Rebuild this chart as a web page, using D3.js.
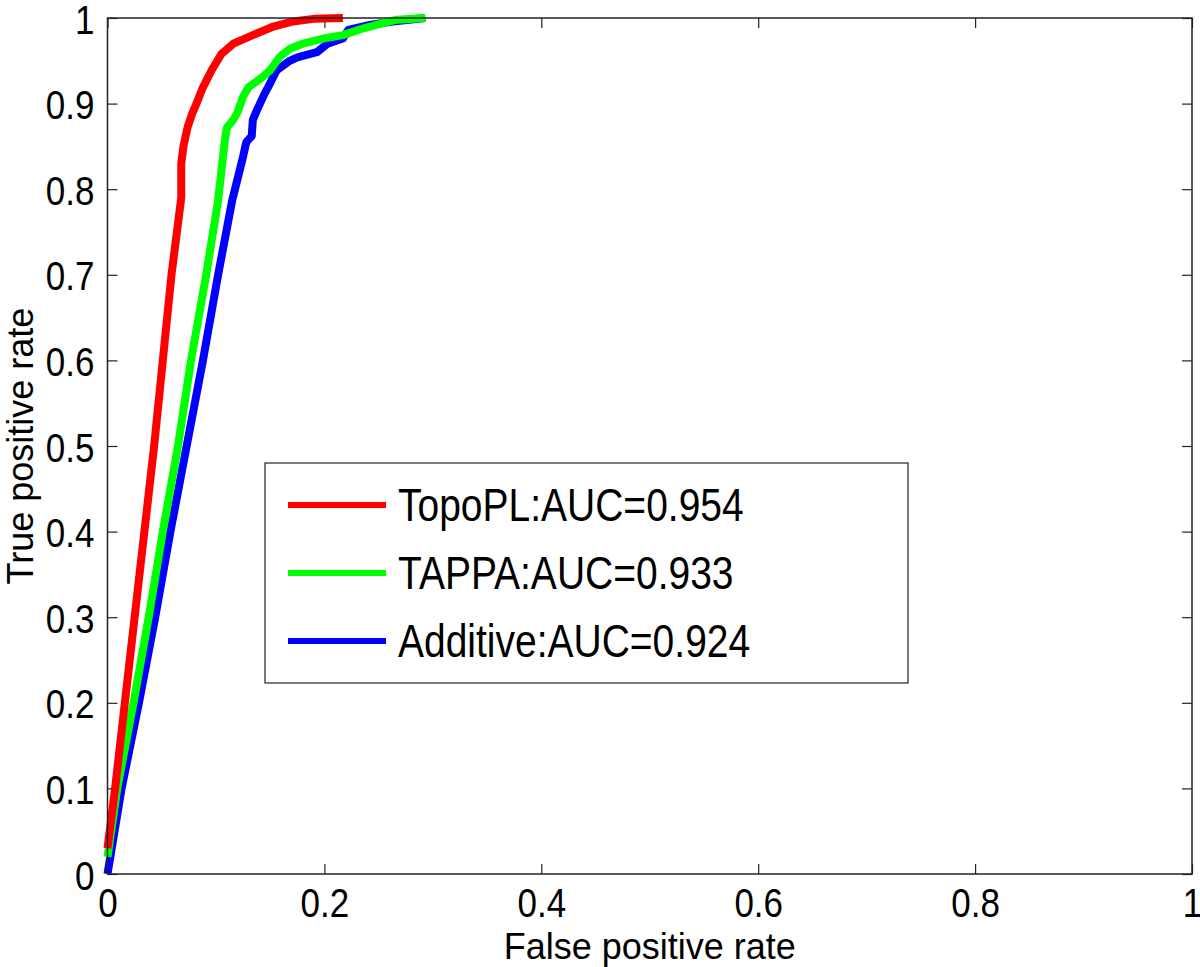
<!DOCTYPE html>
<html>
<head>
<meta charset="utf-8">
<script src="https://cdn.jsdelivr.net/npm/d3@7"></script>
<style>
  body { margin: 0; background: #fff; }
  svg { display: block; }
  text { font-family: "Liberation Sans", Arial, sans-serif; fill: #000; }
</style>
</head>
<body>
<svg id="chart" width="1200" height="967"></svg>
<script>
// series data: [false positive rate, true positive rate]
var topoPL = [
  [0, 0.03], [0.007, 0.1], [0.016, 0.2], [0.025, 0.3], [0.034, 0.4],
  [0.043, 0.5], [0.051, 0.6], [0.059, 0.7], [0.065, 0.76], [0.068, 0.79],
  [0.068, 0.83], [0.070, 0.85], [0.074, 0.873], [0.078, 0.888], [0.082, 0.9],
  [0.088, 0.919], [0.096, 0.939], [0.105, 0.958], [0.116, 0.970], [0.134, 0.980],
  [0.153, 0.990], [0.171, 0.996], [0.19, 0.999], [0.217, 1.0]
];
var tappa = [
  [0, 0.02], [0.009, 0.1], [0.024, 0.2], [0.038, 0.3], [0.051, 0.4],
  [0.065, 0.5], [0.077, 0.6], [0.091, 0.7], [0.102, 0.787], [0.108, 0.855],
  [0.110, 0.872], [0.116, 0.881], [0.120, 0.890], [0.125, 0.908], [0.130, 0.919],
  [0.143, 0.931], [0.150, 0.939], [0.159, 0.955], [0.168, 0.964], [0.180, 0.970],
  [0.199, 0.976], [0.217, 0.980], [0.236, 0.988], [0.254, 0.994], [0.267, 0.998],
  [0.293, 1.0]
];
var additive = [
  [0, 0], [0.013, 0.1], [0.029, 0.2], [0.044, 0.3], [0.058, 0.4],
  [0.073, 0.5], [0.088, 0.6], [0.102, 0.7], [0.115, 0.787], [0.125, 0.838],
  [0.128, 0.855], [0.133, 0.862], [0.134, 0.881], [0.138, 0.893], [0.145, 0.912],
  [0.148, 0.919], [0.156, 0.939], [0.168, 0.950], [0.175, 0.954], [0.193, 0.960],
  [0.203, 0.970], [0.217, 0.976], [0.222, 0.986], [0.242, 0.992], [0.263, 0.996],
  [0.293, 1.0]
];

var seriesNames = ["TopoPL:AUC=0.954", "TAPPA:AUC=0.933", "Additive:AUC=0.924"];
var seriesColors = ["#ff0000", "#00ff00", "#0000ff"];
var seriesData = [topoPL, tappa, additive];

var xTicks = [0, 0.2, 0.4, 0.6, 0.8, 1];
var xTickLabels = ["0", "0.2", "0.4", "0.6", "0.8", "1"];
var yTicks = [0, 0.1, 0.2, 0.3, 0.4, 0.5, 0.6, 0.7, 0.8, 0.9, 1];
var yTickLabels = ["0", "0.1", "0.2", "0.3", "0.4", "0.5", "0.6", "0.7", "0.8", "0.9", "1"];

var margin = { left: 107.5, right: 8, top: 18, bottom: 93 };
var width = 1200 - margin.left - margin.right;
var height = 967 - margin.top - margin.bottom;

var svg = d3.select("#chart");
var g = svg.append("g")
  .attr("transform", "translate(" + margin.left + "," + margin.top + ")");

var x = d3.scaleLinear().domain([0, 1]).range([0, width]);
var y = d3.scaleLinear().domain([0, 1]).range([height, 0]);

// the reference text is drawn a bit taller than it is wide
var placeText = function placeText(sel, tx, ty, rot, sy) {
  sel.attr("x", 0).attr("y", 0).attr("dy", null)
    .attr("transform", "translate(" + tx + "," + ty + ")" +
      (rot ? " rotate(" + rot + ")" : "") + " scale(1," + (sy || 1.18) + ")");
};

var styleAxis = function styleAxis(sel, labels) {
  sel.select(".domain").remove();
  sel.selectAll(".tick line").attr("stroke", "#222").attr("stroke-width", 1.2);
  var txt = sel.selectAll(".tick text").style("font-size", "35px");
  if (labels === "x") {
    txt.each(function() { placeText(d3.select(this), 0, 43); });
  } else if (labels === "y") {
    txt.each(function() { placeText(d3.select(this), -13, 15); });
  } else {
    txt.remove();
  }
};

// bottom + top (mirrored ticks, inside)
g.append("g")
  .attr("transform", "translate(0," + height + ")")
  .call(d3.axisBottom(x).tickValues(xTicks)
    .tickFormat(function(d, i) { return xTickLabels[i]; })
    .tickSizeInner(-10).tickSizeOuter(0))
  .call(styleAxis, "x");
g.append("g")
  .call(d3.axisTop(x).tickValues(xTicks).tickSizeInner(-10).tickSizeOuter(0))
  .call(styleAxis, null);
// left + right
g.append("g")
  .call(d3.axisLeft(y).tickValues(yTicks)
    .tickFormat(function(d, i) { return yTickLabels[i]; })
    .tickSizeInner(-10).tickSizeOuter(0))
  .call(styleAxis, "y");
g.append("g")
  .attr("transform", "translate(" + width + ",0)")
  .call(d3.axisRight(y).tickValues(yTicks).tickSizeInner(-10).tickSizeOuter(0))
  .call(styleAxis, null);

var line = d3.line()
  .x(function(d) { return x(d[0]); })
  .y(function(d) { return y(d[1]); });

// draw blue first so red stays on top like the reference
[2, 1, 0].forEach(function(i) {
  g.append("path")
    .datum(seriesData[i])
    .attr("fill", "none")
    .attr("stroke", seriesColors[i])
    .attr("stroke-width", 8)
    .attr("stroke-linejoin", "round")
    .attr("d", line);
});

// frame
g.append("rect")
  .attr("width", width)
  .attr("height", height)
  .attr("fill", "none")
  .attr("stroke", "#222")
  .attr("stroke-width", 1.5);

// axis labels
svg.append("text")
  .attr("text-anchor", "middle")
  .style("font-size", "36px")
  .text("False positive rate")
  .call(placeText, margin.left + width / 2, 959, 0, 1);
svg.append("text")
  .attr("text-anchor", "middle")
  .style("font-size", "36px")
  .text("True positive rate")
  .call(placeText, 33, margin.top + height / 2, -90, 1);

// legend
var legend = svg.append("g").attr("transform", "translate(265,463)");
legend.append("rect")
  .attr("width", 643)
  .attr("height", 220)
  .attr("fill", "#fff")
  .attr("stroke", "#222")
  .attr("stroke-width", 1.2);
seriesNames.forEach(function(name, i) {
  var row = legend.append("g").attr("transform", "translate(0," + (42 + i * 68) + ")");
  row.append("line")
    .attr("x1", 23).attr("x2", 121)
    .attr("stroke", seriesColors[i])
    .attr("stroke-width", 6);
  row.append("text")
    .style("font-size", "39px")
    .text(name)
    .call(placeText, 133, 16);
});
</script>
</body>
</html>
